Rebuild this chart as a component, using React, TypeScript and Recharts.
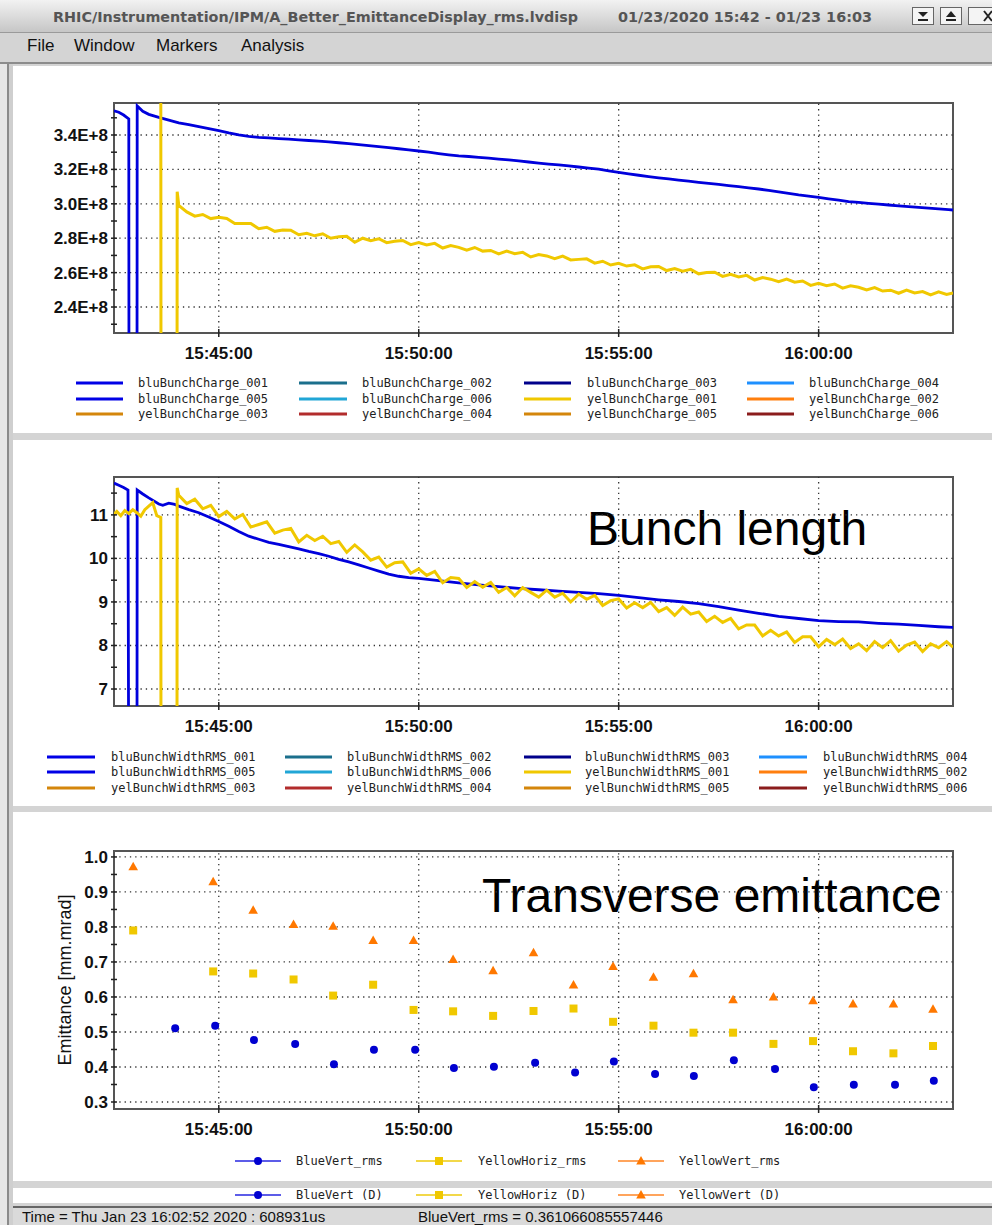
import React from 'react';
import { LineChart, Line, ScatterChart, Scatter, XAxis, YAxis, ReferenceLine, ReferenceArea } from 'recharts';

const FONT = '"Liberation Sans", Arial, sans-serif';
const MONO = '"DejaVu Sans Mono", monospace';

// time axis: minutes after 15:00
const X_DOMAIN: [number, number] = [42.38, 63.36];
const timeTicks = [45, 50, 55, 60];
const timeLabels = ['15:45:00', '15:50:00', '15:55:00', '16:00:00'];

// bunch charge, units of 1E+8
const chargeTicks = [2.3, 2.4, 2.5, 2.6, 2.7, 2.8, 2.9, 3.0, 3.1, 3.2, 3.3, 3.4, 3.5];
const chargeMajor = [2.4, 2.6, 2.8, 3.0, 3.2, 3.4];
const chargeLabels = ['2.4E+8', '2.6E+8', '2.8E+8', '3.0E+8', '3.2E+8', '3.4E+8'];

const bluCharge: [number, number][] = [
  [42.38, 3.541], [42.5, 3.532], [42.62, 3.516], [42.75, 3.493], [42.76, 0], [42.95, 0], [42.96, 3.569],
  [43.1, 3.538], [43.25, 3.52], [43.5, 3.502], [43.75, 3.486], [44.0, 3.471], [44.25, 3.46], [44.5, 3.448],
  [44.75, 3.437], [45.0, 3.425], [45.25, 3.412], [45.5, 3.401], [45.75, 3.392], [46.0, 3.386], [46.25, 3.383],
  [46.5, 3.379], [46.75, 3.376], [47.0, 3.372], [47.25, 3.368], [47.5, 3.364], [47.75, 3.36], [48.0, 3.355],
  [48.25, 3.35], [48.5, 3.344], [48.75, 3.338], [49.0, 3.333], [49.25, 3.327], [49.5, 3.32], [49.75, 3.314],
  [50.0, 3.307], [50.25, 3.3], [50.5, 3.292], [50.75, 3.285], [51.0, 3.279], [51.25, 3.275], [51.5, 3.27],
  [51.75, 3.265], [52.0, 3.26], [52.25, 3.255], [52.5, 3.249], [52.75, 3.243], [53.0, 3.237], [53.25, 3.231],
  [53.5, 3.226], [53.75, 3.22], [54.0, 3.214], [54.25, 3.208], [54.5, 3.202], [54.75, 3.192], [55.0, 3.183],
  [55.25, 3.174], [55.5, 3.166], [55.75, 3.158], [56.0, 3.151], [56.25, 3.145], [56.5, 3.138], [56.75, 3.132],
  [57.0, 3.125], [57.25, 3.119], [57.5, 3.113], [57.75, 3.106], [58.0, 3.1], [58.25, 3.093], [58.5, 3.086],
  [58.75, 3.078], [59.0, 3.069], [59.25, 3.061], [59.5, 3.052], [59.75, 3.045], [60.0, 3.038], [60.25, 3.029],
  [60.5, 3.021], [60.75, 3.013], [61.0, 3.008], [61.25, 3.003], [61.5, 2.998], [61.75, 2.993], [62.0, 2.988],
  [62.25, 2.984], [62.5, 2.979], [62.75, 2.975], [63.0, 2.97], [63.25, 2.966], [63.36, 2.964],
];

const yelCharge: [number, number][] = [
  [42.38, 3.8], [43.55, 3.8], [43.56, 0], [43.95, 0], [43.96, 3.07], [44.0, 2.99],
  [44.2, 2.953], [44.4, 2.928], [44.6, 2.938], [44.8, 2.914], [45.0, 2.922], [45.2, 2.915], [45.4, 2.886],
  [45.6, 2.886], [45.8, 2.886], [46.0, 2.855], [46.2, 2.864], [46.4, 2.84], [46.6, 2.848], [46.8, 2.847],
  [47.0, 2.82], [47.2, 2.829], [47.4, 2.814], [47.6, 2.826], [47.8, 2.8], [48.0, 2.809], [48.2, 2.811],
  [48.4, 2.776], [48.6, 2.8], [48.8, 2.786], [49.0, 2.797], [49.2, 2.774], [49.4, 2.782], [49.6, 2.787],
  [49.8, 2.763], [50.0, 2.775], [50.2, 2.761], [50.4, 2.77], [50.6, 2.743], [50.8, 2.757], [51.0, 2.747],
  [51.2, 2.73], [51.4, 2.746], [51.6, 2.725], [51.8, 2.729], [52.0, 2.709], [52.2, 2.725], [52.4, 2.71],
  [52.6, 2.718], [52.8, 2.691], [53.0, 2.705], [53.2, 2.697], [53.4, 2.681], [53.6, 2.696], [53.8, 2.674],
  [54.0, 2.677], [54.2, 2.68], [54.4, 2.655], [54.6, 2.666], [54.8, 2.644], [55.0, 2.654], [55.2, 2.638],
  [55.4, 2.645], [55.6, 2.622], [55.8, 2.634], [56.0, 2.636], [56.2, 2.612], [56.4, 2.623], [56.6, 2.608],
  [56.8, 2.619], [57.0, 2.593], [57.2, 2.601], [57.4, 2.602], [57.6, 2.578], [57.8, 2.59], [58.0, 2.575],
  [58.2, 2.584], [58.4, 2.557], [58.6, 2.571], [58.8, 2.562], [59.0, 2.548], [59.2, 2.562], [59.4, 2.544],
  [59.6, 2.551], [59.8, 2.526], [60.0, 2.538], [60.2, 2.524], [60.4, 2.534], [60.6, 2.51], [60.8, 2.523],
  [61.0, 2.515], [61.2, 2.499], [61.4, 2.513], [61.6, 2.493], [61.8, 2.498], [62.0, 2.48], [62.2, 2.499],
  [62.4, 2.482], [62.6, 2.49], [62.8, 2.47], [63.0, 2.488], [63.2, 2.473], [63.36, 2.481],
];

// bunch width rms
const widthTicks = [7, 7.5, 8, 8.5, 9, 9.5, 10, 10.5, 11, 11.5];
const widthMajor = [7, 8, 9, 10, 11];
const widthLabels = ['7', '8', '9', '10', '11'];

const bluWidth: [number, number][] = [
  [42.38, 11.73], [42.5, 11.68], [42.62, 11.63], [42.73, 11.57], [42.76, 0], [42.95, 0], [42.96, 11.57],
  [43.1, 11.48], [43.25, 11.39], [43.5, 11.25], [43.6, 11.22], [43.75, 11.27], [43.9, 11.24], [44.0, 11.2],
  [44.25, 11.12], [44.5, 11.05], [44.75, 10.95], [45.0, 10.85], [45.25, 10.74], [45.5, 10.62], [45.75, 10.51],
  [46.0, 10.44], [46.25, 10.37], [46.5, 10.32], [46.75, 10.27], [47.0, 10.22], [47.25, 10.16], [47.5, 10.11],
  [47.75, 10.05], [48.0, 9.98], [48.25, 9.92], [48.5, 9.85], [48.75, 9.78], [49.0, 9.71], [49.25, 9.64],
  [49.5, 9.59], [49.75, 9.56], [50.0, 9.54], [50.5, 9.49], [51.0, 9.44], [51.5, 9.39], [52.0, 9.35],
  [52.5, 9.31], [53.0, 9.28], [53.5, 9.25], [54.0, 9.22], [54.5, 9.19], [55.0, 9.15], [55.5, 9.1],
  [56.0, 9.05], [56.5, 9.01], [57.0, 8.96], [57.5, 8.89], [58.0, 8.81], [58.5, 8.74], [59.0, 8.67],
  [59.5, 8.62], [60.0, 8.57], [60.5, 8.55], [61.0, 8.54], [61.5, 8.51], [62.0, 8.49], [62.5, 8.46],
  [63.0, 8.43], [63.36, 8.415],
];

const yelWidth: [number, number][] = [
  [42.38, 11.02], [42.45, 11.08], [42.55, 10.98], [42.65, 11.1], [42.75, 11.03], [42.85, 11.12], [42.95, 11.05],
  [43.05, 10.97], [43.15, 11.12], [43.25, 11.2], [43.35, 11.28], [43.45, 10.98], [43.55, 10.94], [43.56, 0],
  [43.95, 0], [43.96, 11.62], [44.0, 11.45], [44.2, 11.26], [44.4, 11.36], [44.6, 11.14], [44.8, 11.22],
  [45.0, 10.96], [45.2, 11.08], [45.4, 10.91], [45.6, 11.01], [45.8, 10.72], [46.0, 10.78], [46.2, 10.84],
  [46.4, 10.58], [46.6, 10.65], [46.8, 10.69], [47.0, 10.38], [47.2, 10.53], [47.4, 10.41], [47.6, 10.51],
  [47.8, 10.34], [48.0, 10.39], [48.2, 10.14], [48.4, 10.31], [48.6, 10.15], [48.8, 9.96], [49.0, 10.03],
  [49.2, 9.8], [49.4, 9.9], [49.6, 9.92], [49.8, 9.66], [50.0, 9.76], [50.2, 9.61], [50.4, 9.7],
  [50.6, 9.44], [50.8, 9.56], [51.0, 9.54], [51.2, 9.33], [51.4, 9.47], [51.6, 9.34], [51.8, 9.45],
  [52.0, 9.22], [52.2, 9.33], [52.4, 9.14], [52.6, 9.33], [52.8, 9.22], [53.0, 9.11], [53.2, 9.27],
  [53.4, 9.11], [53.6, 9.2], [53.8, 9.0], [54.0, 9.18], [54.2, 9.06], [54.4, 9.15], [54.6, 8.92],
  [54.8, 9.03], [55.0, 9.07], [55.2, 8.86], [55.4, 8.98], [55.6, 8.87], [55.8, 8.99], [56.0, 8.78],
  [56.2, 8.87], [56.4, 8.69], [56.6, 8.88], [56.8, 8.72], [57.0, 8.77], [57.2, 8.55], [57.4, 8.67],
  [57.6, 8.53], [57.8, 8.62], [58.0, 8.38], [58.2, 8.47], [58.4, 8.47], [58.6, 8.22], [58.8, 8.35],
  [59.0, 8.22], [59.2, 8.31], [59.4, 8.07], [59.6, 8.2], [59.8, 8.2], [60.0, 7.97], [60.2, 8.14],
  [60.4, 8.02], [60.6, 8.15], [60.8, 7.93], [61.0, 8.04], [61.2, 7.88], [61.4, 8.09], [61.6, 7.95],
  [61.8, 8.11], [62.0, 7.87], [62.2, 8.01], [62.4, 8.08], [62.6, 7.86], [62.8, 8.04], [63.0, 7.95],
  [63.2, 8.09], [63.36, 7.96],
];

// transverse emittance [mm.mrad]
const emitTicks = [0.3, 0.35, 0.4, 0.45, 0.5, 0.55, 0.6, 0.65, 0.7, 0.75, 0.8, 0.85, 0.9, 0.95, 1.0];
const emitMajor = [0.3, 0.4, 0.5, 0.6, 0.7, 0.8, 0.9, 1.0];
const emitLabels = ['0.3', '0.4', '0.5', '0.6', '0.7', '0.8', '0.9', '1.0'];

const blueVertTime = [43.91, 44.91, 45.88, 46.91, 47.88, 48.88, 49.91, 50.88, 51.88, 52.91, 53.91, 54.88, 55.91, 56.88, 57.88, 58.91, 59.88, 60.88, 61.91, 62.88];
const blueVertRms = [0.511, 0.518, 0.477, 0.466, 0.408, 0.449, 0.449, 0.397, 0.401, 0.412, 0.384, 0.416, 0.38, 0.374, 0.419, 0.394, 0.342, 0.349, 0.349, 0.361];
const yellowTime = [42.86, 44.86, 45.86, 46.87, 47.86, 48.86, 49.87, 50.86, 51.86, 52.87, 53.87, 54.86, 55.87, 56.87, 57.86, 58.87, 59.86, 60.86, 61.87, 62.86];
const yellowHorizRms = [0.79, 0.673, 0.667, 0.65, 0.604, 0.635, 0.563, 0.559, 0.546, 0.56, 0.567, 0.529, 0.518, 0.498, 0.498, 0.466, 0.474, 0.445, 0.439, 0.46];
const yellowVertRms = [0.972, 0.929, 0.848, 0.807, 0.802, 0.761, 0.761, 0.707, 0.675, 0.726, 0.634, 0.687, 0.656, 0.666, 0.592, 0.6, 0.589, 0.58, 0.58, 0.565];

const chargeLegend = [
  'bluBunchCharge_001', 'bluBunchCharge_002', 'bluBunchCharge_003', 'bluBunchCharge_004',
  'bluBunchCharge_005', 'bluBunchCharge_006', 'yelBunchCharge_001', 'yelBunchCharge_002',
  'yelBunchCharge_003', 'yelBunchCharge_004', 'yelBunchCharge_005', 'yelBunchCharge_006',
];
const widthLegend = [
  'bluBunchWidthRMS_001', 'bluBunchWidthRMS_002', 'bluBunchWidthRMS_003', 'bluBunchWidthRMS_004',
  'bluBunchWidthRMS_005', 'bluBunchWidthRMS_006', 'yelBunchWidthRMS_001', 'yelBunchWidthRMS_002',
  'yelBunchWidthRMS_003', 'yelBunchWidthRMS_004', 'yelBunchWidthRMS_005', 'yelBunchWidthRMS_006',
];
const bunchColors = ['#0000e6', '#1b6f8c', '#00008b', '#1e90ff', '#0000e6', '#21a6d6', '#f0c800', '#ff7f0e', '#d4860b', '#b22c2c', '#d4860b', '#8b1c1c'];
const emitLegendRms = ['BlueVert_rms', 'YellowHoriz_rms', 'YellowVert_rms'];
const emitLegendD = ['BlueVert (D)', 'YellowHoriz (D)', 'YellowVert (D)'];

const BLUE = '#0000dc';
const YELLOW = '#f0c800';
const ORANGE = '#ff7800';

const toPts = (rows: [number, number][]) => rows.map(([t, v]) => ({ t, v }));
const zipPts = (ts: number[], vs: number[]) => ts.map((t, i) => ({ t, v: vs[i] }));

const XTick = (p: any) => {
  const i = timeTicks.findIndex((t) => Math.abs(t - p.payload.value) < 1e-6);
  return (
    <g>
      <line x1={p.x} x2={p.x} y1={p.y - 4} y2={p.y + 4} stroke="#222" strokeWidth={1.5} />
      <text x={p.x} y={p.y + 26} textAnchor="middle" fontFamily={FONT} fontWeight="bold" fontSize={17} fill="#111">
        {timeLabels[i] ?? ''}
      </text>
    </g>
  );
};

const makeYTick = (major: number[], labels: string[]) => (p: any) => {
  const i = major.findIndex((m) => Math.abs(m - p.payload.value) < 1e-6);
  return (
    <g>
      <line x1={p.x - 3} x2={p.x + 3} y1={p.y} y2={p.y} stroke="#222" strokeWidth={1.5} />
      {i >= 0 && (
        <text x={p.x - 6} y={p.y + 6} textAnchor="end" fontFamily={FONT} fontWeight="bold" fontSize={17} fill="#111">
          {labels[i]}
        </text>
      )}
    </g>
  );
};

const grid = (major: number[], domain: [number, number]) => [
  ...major.map((v) => (
    <ReferenceLine key={`h${v}`} y={v} stroke="#333" strokeWidth={1.3} strokeDasharray="1.3 4" />
  )),
  ...timeTicks.map((t) => (
    <ReferenceLine key={`v${t}`} x={t} stroke="#333" strokeWidth={1.3} strokeDasharray="1.3 4" />
  )),
  <ReferenceArea key="frame" x1={X_DOMAIN[0]} x2={X_DOMAIN[1]} y1={domain[0]} y2={domain[1]} fill="none" stroke="#555" strokeWidth={2} />,
];

const xAxisEl = (
  <XAxis type="number" dataKey="t" domain={X_DOMAIN} allowDataOverflow ticks={timeTicks} interval={0}
    tickSize={0} tickMargin={0} axisLine={false} tickLine={false} height={40} tick={XTick} />
);

const Circle = (p: any) => <circle cx={p.cx} cy={p.cy} r={4} fill="#0000d0" />;
const Square = (p: any) => <rect x={p.cx - 4} y={p.cy - 4} width={8} height={8} fill={YELLOW} />;
const Triangle = (p: any) => (
  <polygon points={`${p.cx},${p.cy - 5} ${p.cx - 4.8},${p.cy + 3.5} ${p.cx + 4.8},${p.cy + 3.5}`} fill={ORANGE} />
);

const legendBlock = (names: string[], colors: string[], lineX: number[], lineEnd: number[], textX: number[], rows: number[]) =>
  names.map((n, i) => {
    const c = i % 4;
    const r = Math.floor(i / 4);
    return (
      <g key={n}>
        <line x1={lineX[c]} x2={lineEnd[c]} y1={rows[r]} y2={rows[r]} stroke={colors[i]} strokeWidth={3} />
        <text x={textX[c]} y={rows[r] + 4} fontFamily={MONO} fontSize={12} fill="#222">{n}</text>
      </g>
    );
  });

const emitLegendRow = (names: string[], y: number) => {
  const lx = [235, 416, 618];
  const tx = [296, 478, 679];
  const lineCol = ['#5c5ce8', '#f2d84a', '#ffa45c'];
  const marks = [Circle, Square, Triangle];
  return names.map((n, i) => {
    const M = marks[i];
    return (
      <g key={n}>
        <line x1={lx[i]} x2={lx[i] + 46} y1={y} y2={y} stroke={lineCol[i]} strokeWidth={2} />
        <M cx={lx[i] + 23} cy={y} />
        <text x={tx[i]} y={y + 4} fontFamily={MONO} fontSize={12} fill="#222">{n}</text>
      </g>
    );
  });
};

const Chrome = () => (
  <svg width={992} height={1225} style={{ position: 'absolute', left: 0, top: 0 }}>
    <defs>
      <linearGradient id="tb" x1="0" y1="0" x2="0" y2="1">
        <stop offset="0" stopColor="#f2f2f2" />
        <stop offset="1" stopColor="#c6c6c6" />
      </linearGradient>
    </defs>
    <rect x={0} y={0} width={992} height={1225} fill="#d4d4d4" />
    <rect x={0} y={0} width={992} height={32} fill="url(#tb)" />
    <line x1={0} x2={992} y1={32.5} y2={32.5} stroke="#9a9a9a" />
    <text x={53} y={22} fontFamily='"DejaVu Sans", sans-serif' fontWeight="bold" fontSize={14} fill="#555"
      textLength={525} lengthAdjust="spacingAndGlyphs">RHIC/Instrumentation/IPM/A_Better_EmittanceDisplay_rms.lvdisp</text>
    <text x={618} y={22} fontFamily='"DejaVu Sans", sans-serif' fontWeight="bold" fontSize={14} fill="#555"
      textLength={254} lengthAdjust="spacingAndGlyphs">01/23/2020 15:42 - 01/23 16:03</text>
    <rect x={912.5} y={7.5} width={21} height={17} fill="#f4f4f4" stroke="#666" />
    <polygon points="918,12 928,12 923,17" fill="#222" />
    <rect x={918} y={19} width={10} height={2} fill="#222" />
    <rect x={940.5} y={7.5} width={21} height={17} fill="#f4f4f4" stroke="#666" />
    <polygon points="946,17 956,17 951,11" fill="#222" />
    <rect x={946} y={19} width={10} height={2} fill="#222" />
    <rect x={968.5} y={7.5} width={30} height={17} fill="#f4f4f4" stroke="#666" />
    <path d="M984,11 L992,21 M992,11 L984,21" stroke="#222" strokeWidth={2} />
    <text fontFamily={FONT} fontSize={17} fill="#111" y={51}>
      <tspan x={27}>File</tspan>
      <tspan x={74}>Window</tspan>
      <tspan x={156}>Markers</tspan>
      <tspan x={241}>Analysis</tspan>
    </text>
    <rect x={0} y={62} width={992} height={2} fill="#8c8c8c" />
    <rect x={0} y={64} width={7} height={1161} fill="#e6e6e6" />
    <rect x={7} y={64} width={2} height={1161} fill="#8a8a8a" />
    <rect x={9} y={64} width={4} height={1161} fill="#cfcfcf" />
    <rect x={13} y={66} width={979} height={367} fill="#fff" />
    <rect x={13} y={440} width={979} height={366} fill="#fff" />
    <rect x={13} y={812} width={979} height={369} fill="#fff" />
    <rect x={13} y={1188} width={979} height={15} fill="#fff" />
    <rect x={13} y={1206} width={979} height={2} fill="#666" />
    <rect x={13} y={1208} width={979} height={17} fill="#dadada" />
    <text x={22} y={1222} fontFamily={FONT} fontSize={15} fill="#111">Time = Thu Jan 23 16:02:52 2020 : 608931us</text>
    <text x={418} y={1222} fontFamily={FONT} fontSize={15} fill="#111">BlueVert_rms = 0.361066085557446</text>
    {legendBlock(chargeLegend, bunchColors, [76, 299, 524, 747], [123, 347, 571, 794], [138, 362, 587, 809], [383, 399, 414])}
    {legendBlock(widthLegend, bunchColors, [47, 285, 524, 759], [95, 332, 571, 807], [111, 347, 585, 823], [757, 772, 788])}
    {emitLegendRow(emitLegendRms, 1161)}
    {emitLegendRow(emitLegendD, 1195)}
    <text x={587} y={545} fontFamily={FONT} fontSize={48} fill="#000">Bunch length</text>
    <text x={482} y={912} fontFamily={FONT} fontSize={48} fill="#000">Transverse emittance</text>
    <text x={0} y={0} transform="translate(71 980) rotate(-90)" textAnchor="middle" fontFamily={FONT} fontSize={18} fill="#111">
      Emittance [mm.mrad]
    </text>
  </svg>
);

const CHARGE_DOMAIN: [number, number] = [2.249, 3.586];
const WIDTH_DOMAIN: [number, number] = [6.61, 11.87];
const EMIT_DOMAIN: [number, number] = [0.28, 1.017];
const MARGIN = { top: 10, right: 39, bottom: 0, left: 0 };

export default function App() {
  return (
    <div style={{ position: 'fixed', left: 0, top: 0, width: 992, height: 1225, overflow: 'hidden' }}>
      <Chrome />
      <div style={{ position: 'absolute', left: 0, top: 93 }}>
        <LineChart width={992} height={280} margin={MARGIN}>
          {xAxisEl}
          <YAxis type="number" domain={CHARGE_DOMAIN} allowDataOverflow ticks={chargeTicks} interval={0} width={114}
            tickSize={0} tickMargin={0} axisLine={false} tickLine={false} tick={makeYTick(chargeMajor, chargeLabels)} />
          {grid(chargeMajor, CHARGE_DOMAIN)}
          <Line data={toPts(bluCharge)} dataKey="v" type="linear" stroke={BLUE} strokeWidth={2.8} dot={false} isAnimationActive={false} />
          <Line data={toPts(yelCharge)} dataKey="v" type="linear" stroke={YELLOW} strokeWidth={3} dot={false} isAnimationActive={false} />
        </LineChart>
      </div>
      <div style={{ position: 'absolute', left: 0, top: 467 }}>
        <LineChart width={992} height={279} margin={MARGIN}>
          {xAxisEl}
          <YAxis type="number" domain={WIDTH_DOMAIN} allowDataOverflow ticks={widthTicks} interval={0} width={114}
            tickSize={0} tickMargin={0} axisLine={false} tickLine={false} tick={makeYTick(widthMajor, widthLabels)} />
          {grid(widthMajor, WIDTH_DOMAIN)}
          <Line data={toPts(bluWidth)} dataKey="v" type="linear" stroke={BLUE} strokeWidth={2.8} dot={false} isAnimationActive={false} />
          <Line data={toPts(yelWidth)} dataKey="v" type="linear" stroke={YELLOW} strokeWidth={3} dot={false} isAnimationActive={false} />
        </LineChart>
      </div>
      <div style={{ position: 'absolute', left: 0, top: 841 }}>
        <ScatterChart width={992} height={308} margin={MARGIN}>
          {xAxisEl}
          <YAxis type="number" dataKey="v" domain={EMIT_DOMAIN} allowDataOverflow ticks={emitTicks} interval={0} width={114}
            tickSize={0} tickMargin={0} axisLine={false} tickLine={false} tick={makeYTick(emitMajor, emitLabels)} />
          {grid(emitMajor, EMIT_DOMAIN)}
          <Scatter data={zipPts(blueVertTime, blueVertRms)} shape={Circle} isAnimationActive={false} />
          <Scatter data={zipPts(yellowTime, yellowHorizRms)} shape={Square} isAnimationActive={false} />
          <Scatter data={zipPts(yellowTime, yellowVertRms)} shape={Triangle} isAnimationActive={false} />
        </ScatterChart>
      </div>
    </div>
  );
}
